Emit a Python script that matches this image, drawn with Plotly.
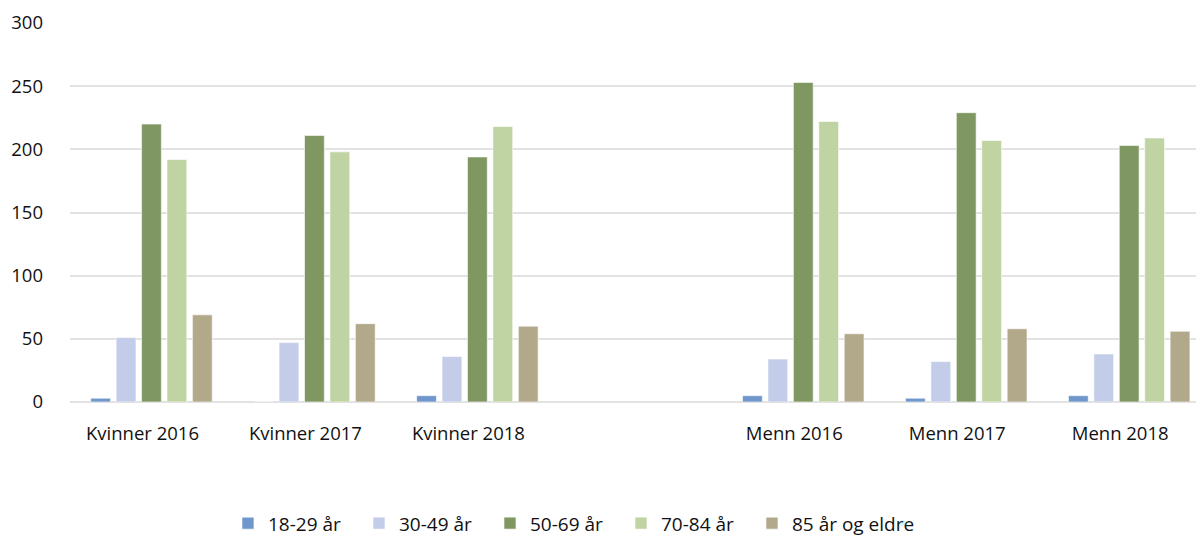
import plotly.graph_objects as go

categories = ["Kvinner 2016", "Kvinner 2017", "Kvinner 2018", " ", "Menn 2016", "Menn 2017", "Menn 2018"]
series_names = ["18-29 år", "30-49 år", "50-69 år", "70-84 år", "85 år og eldre"]
v_18_29 = [3, 0, 5, None, 5, 3, 5]
v_30_49 = [51, 47, 36, None, 34, 32, 38]
v_50_69 = [220, 211, 194, None, 253, 229, 203]
v_70_84 = [192, 198, 218, None, 222, 207, 209]
v_85 = [69, 62, 60, None, 54, 58, 56]
colors = ["#6F97CC", "#C3CCE8", "#7F9862", "#C0D3A3", "#B2A88A"]

fig = go.Figure()
for name, vals, col in zip(series_names, [v_18_29, v_30_49, v_50_69, v_70_84, v_85], colors):
    fig.add_trace(go.Bar(x=categories, y=vals, name=name,
                         marker=dict(color=col, line=dict(color="rgba(255,255,255,0.6)", width=1))))

# invisible spacer legend entry so the last real legend label is not clipped
fig.add_trace(go.Scatter(x=[None], y=[None], mode="markers", name=" ",
                         marker=dict(opacity=0), hoverinfo="skip", showlegend=True))

fig.update_layout(
    width=1196, height=538,
    margin=dict(l=70, r=0, t=23, b=136, autoexpand=False),
    plot_bgcolor="white", paper_bgcolor="white",
    barmode="group", bargap=0.22, bargroupgap=0.22,
    font=dict(family="Open Sans", size=18, color="#111111"),
    showlegend=True,
    legend=dict(orientation="h", x=0.1403, xanchor="left", y=-0.320, yanchor="middle",
                font=dict(size=19), itemwidth=30, entrywidth=86, entrywidthmode="pixels"),
)
fig.update_xaxes(type="category", range=[-0.5, 6.41], showgrid=False, showline=False, ticks="",
                 ticklabelstandoff=18, ticklabelshift=-9, tickfont=dict(size=18.5))
fig.update_yaxes(range=[0, 300], dtick=50, showgrid=True, gridcolor="#E2E2E2", gridwidth=1.5,
                 zeroline=True, zerolinecolor="#E2E2E2", zerolinewidth=1.5,
                 ticklabelstandoff=26, tickfont=dict(size=18.5), showline=False)

fig.write_html("out.html", config={"displayModeBar": False},
               post_script="document.body.style.margin='0';document.body.style.overflow='hidden';")
